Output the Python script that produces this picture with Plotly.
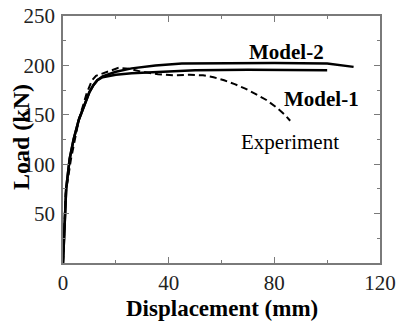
import plotly.graph_objects as go

# Data
model1_x = [0, 0.5, 1.2, 2.5, 4, 6, 8, 10, 11.5, 13, 15, 20, 26, 36, 50, 70, 90, 100]
model1_y = [0, 40, 75, 105, 125, 145, 160, 173, 180, 185, 188, 190.5, 192, 193.5, 195, 195.5, 195.5, 195]

model2_x = [0, 0.5, 1.2, 2.5, 4, 6, 8, 10, 11.5, 13, 15, 20, 26, 35, 45, 60, 80, 100, 105, 110]
model2_y = [0, 40, 75, 105, 125, 145, 160, 173, 180, 185, 189, 193.5, 197, 200, 202, 202.5, 202.5, 202, 200.5, 198.5]

exp_x = [0, 1, 3, 6, 9, 11, 12.5, 15, 18, 21, 25, 30, 36, 42, 48, 53, 57, 61, 65, 69, 73, 77, 81, 84, 86]
exp_y = [0, 70, 105, 145, 172, 185, 189.5, 192, 195, 197.5, 196.5, 193.5, 191, 190, 190.5, 190, 188, 185, 181, 176.5, 171, 165, 157, 150, 144]

x_tickvals = [0, 40, 80, 120]
y_tickvals = [50, 100, 150, 200, 250]

labels = [
    ("Model-2", 84.5, 214, True),
    ("Model-1", 98, 166, True),
    ("Experiment", 86, 122, False),
]

FONT = "Liberation Serif"
AX = "#7a7a7a"

fig = go.Figure()
fig.add_trace(go.Scatter(x=model1_x, y=model1_y, mode="lines",
                         line=dict(color="black", width=2.5), showlegend=False))
fig.add_trace(go.Scatter(x=model2_x, y=model2_y, mode="lines",
                         line=dict(color="black", width=2.5), showlegend=False))
fig.add_trace(go.Scatter(x=exp_x, y=exp_y, mode="lines",
                         line=dict(color="black", width=2, dash="7px,4px"), showlegend=False))

for text, x, y, bold in labels:
    fig.add_annotation(x=x, y=y, xref="x", yref="y", showarrow=False,
                       text=f"<b>{text}</b>" if bold else text,
                       font=dict(family=FONT, size=21, color="black"))

fig.add_annotation(x=0.5, y=-0.185, xref="paper", yref="paper", showarrow=False,
                   text="<b>Displacement (mm)</b>", yanchor="middle",
                   font=dict(family=FONT, size=23, color="black"))
fig.add_annotation(x=-0.1325, y=0.51, xref="paper", yref="paper", showarrow=False,
                   text="<b>Load (kN)</b>", textangle=-90, xanchor="center", yanchor="middle",
                   font=dict(family=FONT, size=24, color="black"))

fig.update_xaxes(range=[0, 120], tickvals=x_tickvals, ticktext=[str(v) for v in x_tickvals],
                 ticks="inside", ticklen=6, tickcolor=AX, tickwidth=1,
                 minor=dict(dtick=20, tick0=0, ticks="inside", ticklen=3, tickcolor=AX),
                 showline=True, linecolor=AX, linewidth=1.5, mirror="ticks",
                 showgrid=False, zeroline=False, automargin=False, ticklabeloverflow="allow",
                 ticklabelstandoff=0,
                 tickfont=dict(family=FONT, size=21, color="#222"))
fig.update_yaxes(range=[0, 250], tickvals=y_tickvals, ticktext=[str(v) for v in y_tickvals],
                 ticks="inside", ticklen=6, tickcolor=AX, tickwidth=1,
                 minor=dict(dtick=25, tick0=0, ticks="inside", ticklen=3, tickcolor=AX),
                 showline=True, linecolor=AX, linewidth=1.5, mirror="ticks",
                 showgrid=False, zeroline=False, ticklabelstandoff=2, automargin=False,
                 ticklabeloverflow="allow",
                 tickfont=dict(family=FONT, size=21, color="#222"))

fig.update_layout(width=399, height=321,
                  margin=dict(l=63, r=19, t=16, b=58, autoexpand=False),
                  plot_bgcolor="white", paper_bgcolor="white")

# remove the default 8px page margin so the figure sits at the window's top-left
fig.write_html("out.html", config={"displayModeBar": False},
               post_script="document.body.style.margin='0';")
